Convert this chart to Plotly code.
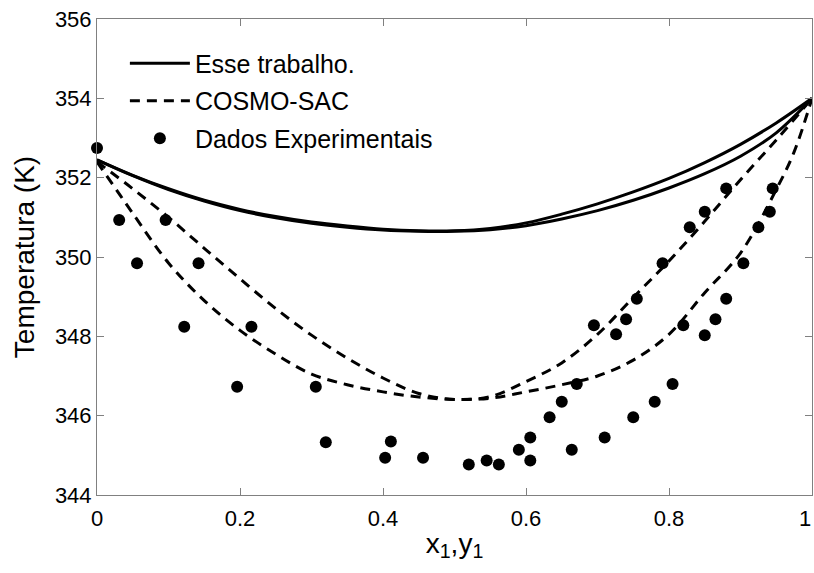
import plotly.graph_objects as go

# Solid curves ("Esse trabalho.") - bubble and dew
x_grid = [0.0, 0.05, 0.1, 0.15, 0.2, 0.25, 0.3, 0.35, 0.4, 0.45, 0.5,
          0.55, 0.6, 0.65, 0.7, 0.75, 0.8, 0.85, 0.9, 0.95, 1.0]
T_this_dew = [352.45, 352.06, 351.72, 351.43, 351.20, 351.02, 350.88, 350.78, 350.70, 350.66, 350.66,
              350.72, 350.86, 351.08, 351.34, 351.64, 351.98, 352.38, 352.84, 353.38, 354.00]
T_this_bub = [352.45, 352.05, 351.70, 351.41, 351.17, 350.99, 350.85, 350.75, 350.68, 350.65, 350.65,
              350.69, 350.79, 350.96, 351.17, 351.43, 351.74, 352.10, 352.54, 353.13, 354.00]

# Dashed curves (COSMO-SAC)
x_cosmo_dew = [0.0, 0.05, 0.1, 0.15, 0.2, 0.25, 0.3, 0.35, 0.4, 0.45, 0.5,
               0.55, 0.6, 0.65, 0.7, 0.75, 0.8, 0.85, 0.9, 0.95, 1.0]
T_cosmo_dew = [352.40, 351.72, 351.00, 350.22, 349.45, 348.70, 348.03, 347.45, 346.95, 346.56, 346.41,
               346.48, 346.86, 347.33, 348.05, 348.98, 349.90, 350.90, 351.95, 352.95, 354.00]
x_cosmo_bub = [0.0, 0.025, 0.05, 0.1, 0.15, 0.2, 0.25, 0.3, 0.35, 0.4, 0.45, 0.5,
               0.55, 0.6, 0.65, 0.7, 0.75, 0.8, 0.85, 0.9, 0.95, 0.975, 1.0]
T_cosmo_bub = [352.40, 351.75, 351.10, 349.85, 348.90, 348.15, 347.55, 347.05, 346.78, 346.60, 346.47, 346.41,
               346.44, 346.60, 346.78, 347.00, 347.40, 348.05, 349.10, 350.10, 351.70, 352.65, 354.00]

# Experimental data
x_exp = [0.0, 0.031, 0.096, 0.056, 0.142, 0.122, 0.216, 0.196, 0.306, 0.320, 0.411,
         0.403, 0.456, 0.520, 0.562, 0.545, 0.606, 0.590, 0.664, 0.606, 0.710,
         0.633, 0.750, 0.650, 0.780, 0.671, 0.805, 0.695, 0.820, 0.726, 0.850,
         0.740, 0.865, 0.755, 0.880, 0.791, 0.904, 0.829, 0.925, 0.850, 0.941,
         0.880, 0.945]
T_exp = [352.75, 350.93, 350.93, 349.84, 349.84, 348.24, 348.24, 346.73, 346.73, 345.33, 345.35,
         344.94, 344.94, 344.77, 344.77, 344.87, 344.87, 345.14, 345.14, 345.45, 345.45,
         345.96, 345.96, 346.35, 346.35, 346.80, 346.80, 348.28, 348.28, 348.05, 348.03,
         348.43, 348.43, 348.95, 348.95, 349.84, 349.84, 350.75, 350.75, 351.14, 351.14,
         351.73, 351.73]

x_ticks = [0, 0.2, 0.4, 0.6, 0.8, 1]
x_ticktext = ["0", "0.2", "0.4", "0.6", "0.8", "1"]
y_ticks = [344, 346, 348, 350, 352, 354, 356]

FONT = "Liberation Sans, Arial, sans-serif"

fig = go.Figure()
fig.add_trace(go.Scatter(x=x_grid, y=T_this_dew, mode="lines", name="Esse trabalho.",
                         line=dict(color="black", width=3, shape="spline"),
                         legendgroup="a"))
fig.add_trace(go.Scatter(x=x_grid, y=T_this_bub, mode="lines", showlegend=False,
                         line=dict(color="black", width=3, shape="spline"),
                         legendgroup="a"))
fig.add_trace(go.Scatter(x=x_cosmo_dew, y=T_cosmo_dew, mode="lines", name="COSMO-SAC",
                         line=dict(color="black", width=3, dash="10px,7px", shape="spline"),
                         legendgroup="b"))
fig.add_trace(go.Scatter(x=x_cosmo_bub, y=T_cosmo_bub, mode="lines", showlegend=False,
                         line=dict(color="black", width=3, dash="10px,7px", shape="spline"),
                         legendgroup="b"))
fig.add_trace(go.Scatter(x=x_exp, y=T_exp, mode="markers", name="Dados Experimentais",
                         marker=dict(color="black", size=12),
                         legendgroup="c", cliponaxis=False))

axis_common = dict(
    showline=True, linecolor="#808080", linewidth=1, mirror="allticks",
    ticks="inside", ticklen=7, tickcolor="#808080", tickwidth=1,
    showgrid=False, zeroline=False, automargin=False,
    tickfont=dict(family=FONT, size=22, color="black"),
    ticklabeloverflow="allow",
)

# the last x tick label sits at the window edge; draw it right-aligned to the axis end
shown_ticktext = x_ticktext[:-1] + [""]

fig.update_layout(
    width=814, height=573,
    margin=dict(l=97, r=2, t=19, b=78),
    paper_bgcolor="white", plot_bgcolor="white",
    font=dict(family=FONT, color="black"),
    xaxis=dict(range=[0, 1], tickvals=x_ticks, ticktext=shown_ticktext, ticklabelstandoff=4,
               title=dict(text="x<sub>1</sub>,y<sub>1</sub>", font=dict(family=FONT, size=28), standoff=2),
               **axis_common),
    yaxis=dict(range=[344, 356], tickvals=y_ticks,
               title=dict(text="Temperatura (K)", font=dict(family=FONT, size=28), standoff=12),
               **axis_common),
    legend=dict(x=0.039, y=0.955, xanchor="left", yanchor="top",
                bgcolor="rgba(0,0,0,0)", borderwidth=0,
                font=dict(family=FONT, size=25, color="black"),
                itemwidth=60, traceorder="grouped", tracegroupgap=2),
    showlegend=True,
)

fig.add_annotation(x=x_ticks[-1], xref="x", y=0, yref="paper", text=x_ticktext[-1],
                   showarrow=False, xanchor="right", yanchor="middle", xshift=1, yshift=-23,
                   font=dict(family=FONT, size=22, color="black"))

fig.write_html("out.html")
